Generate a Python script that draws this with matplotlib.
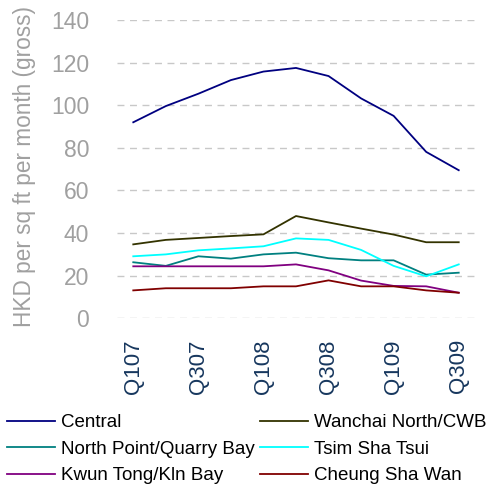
import matplotlib
matplotlib.use("Agg")
import matplotlib.pyplot as plt

quarters = ["Q107", "Q207", "Q307", "Q407", "Q108", "Q208", "Q308", "Q408", "Q109", "Q209", "Q309"]
central = [92.0, 99.6, 105.4, 111.8, 115.8, 117.5, 113.7, 103.2, 95.0, 78.1, 69.5]
wanchai = [34.7, 36.8, 37.7, 38.6, 39.4, 48.0, 45.0, 42.1, 39.3, 35.7, 35.7]
north_point = [26.3, 24.6, 29.1, 28.0, 30.0, 30.8, 28.2, 27.2, 27.2, 20.5, 21.4]
tst = [29.1, 30.0, 31.9, 32.8, 33.8, 37.5, 36.8, 32.1, 24.6, 19.7, 25.3]
kwun_tong = [24.4, 24.4, 24.4, 24.4, 24.4, 25.3, 22.5, 17.7, 15.2, 15.0, 12.0]
csw = [13.1, 14.1, 14.1, 14.1, 15.0, 15.0, 17.8, 15.0, 15.0, 13.1, 12.0]

series = [
    ("Central", central, "#000080"),
    ("Wanchai North/CWB", wanchai, "#333300"),
    ("North Point/Quarry Bay", north_point, "#008080"),
    ("Tsim Sha Tsui", tst, "#00FFFF"),
    ("Kwun Tong/Kln Bay", kwun_tong, "#800080"),
    ("Cheung Sha Wan", csw, "#800000"),
]

plt.rcParams['font.family'] = ['Liberation Sans', 'DejaVu Sans']

fig = plt.figure(figsize=(4.86, 4.97), dpi=100)
ax = fig.add_axes([117/486, 1-318.3/497, 358/486, 298.3/497])

x = list(range(len(quarters)))
handles = []
for name, vals, col in series:
    h, = ax.plot(x, vals, color=col, lw=1.3, label=name, clip_on=False)
    handles.append(h)

ax.set_xlim(-0.5, len(quarters)-0.5)
ax.set_ylim(0, 140)
ax.set_yticks(range(0, 141, 20))
ax.set_xticks(x[::2])
ax.set_xticklabels(quarters[::2], rotation=90, color="#17375E", fontsize=16)
ax.tick_params(axis='x', length=0, pad=15)
ax.tick_params(axis='y', length=0, pad=20, labelcolor="#A0A0A0", labelsize=16.5)
ax.yaxis.grid(True, color="#C8C8C8", lw=1, dashes=(5, 4))
ax.set_axisbelow(True)
for s in ax.spines.values():
    s.set_visible(False)

ax.set_ylabel("HKD per sq ft per month (gross)", color="#A0A0A0", fontsize=16.3)
ax.yaxis.set_label_coords(-0.226, 0.51)

order = [0, 2, 4, 1, 3, 5]
fig.legend([handles[i] for i in order], [series[i][0] for i in order],
           loc='upper left', bbox_to_anchor=(7/486, 1-414/497), ncol=2, frameon=False,
           fontsize=13.5, borderaxespad=0, borderpad=0, handlelength=2.56,
           handletextpad=0.32, columnspacing=0.3, labelspacing=0.5)

fig.savefig("out.png", dpi=100)
